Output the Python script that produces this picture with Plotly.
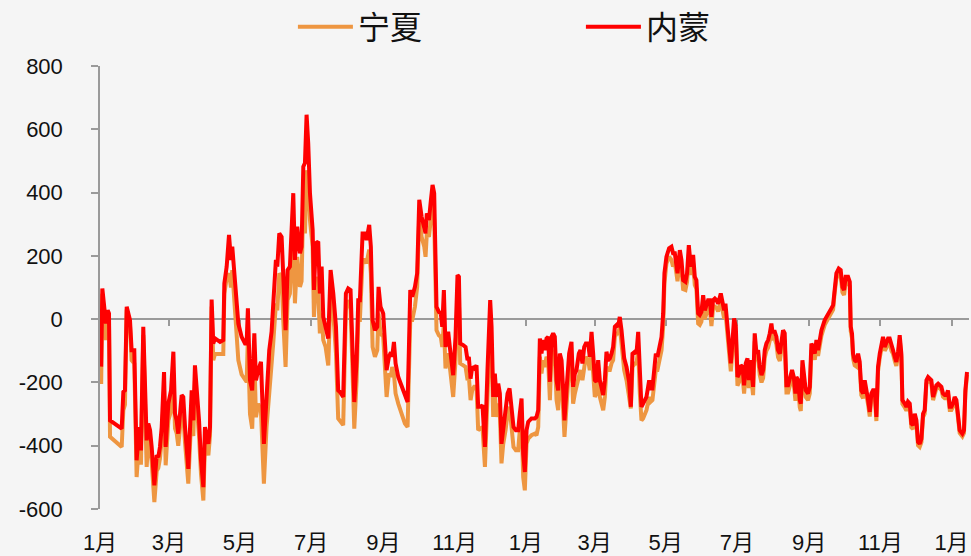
import pandas as pd
import plotly.graph_objects as go

FONT = "Liberation Sans, Noto Sans CJK SC, sans-serif"
CJK = "Noto Sans CJK SC, sans-serif"
AXIS_GREY = "#9a9a9a"
BG = "#f5f5f5"

START = pd.Timestamp("2021-01-01")

# day offsets from START
days = [
    1, 2, 5.1, 6.6, 7.7, 8.6, 18.6, 20, 21.4, 22.9, 25.7, 27.1, 29.4, 31.4, 33.7,
    35.1, 37.1, 38.6, 40, 41.4, 42.9, 44.3, 46.6, 48.6, 50, 51.4, 52.9, 54.9, 56.3, 58.6,
    60.9, 62.9, 64.3, 65.7, 67.1, 70, 71.4, 72.9, 75.7, 78.6, 80, 81.4, 82.9, 84.9, 86.6,
    88.6, 90, 92.9, 94.3, 95.7, 97.1, 98.6, 102.9, 105.7, 106.6, 108.6, 110.6, 112.3, 113.4, 115.7,
    118.6, 121.4,
    124.3, 125.7, 126.8, 128.6, 130.5, 132.3, 133.7, 135.7, 138, 140.5, 142.8, 145.1, 147.1, 148.5, 150.8,
    152, 153.7, 155.7, 157.1, 159.1, 160.8, 162.8, 165.7, 167.1, 169.1, 171.4, 172.8, 174.3, 175.7, 177.1,
    178.5, 180, 182.3, 183.4, 185.1, 187.1, 188.5, 190, 191.4, 193.4, 195.7, 197.7, 200, 202.3, 204.2,
    205.7, 208.5, 210.8, 212.8, 214.8, 216.5, 218, 220, 221.4, 222.8, 225.1, 227.1, 228.5, 230.8, 232.2,
    233.7, 235.7, 237.7, 238.8, 240.5, 242.8,
    245.7, 247.7, 249.4, 250.5, 252, 253.4, 255.7, 258.5, 261.4, 263.7, 264.8, 266, 267.7, 270, 271.9,
    273.7, 275.7, 278, 279.1, 280.2, 282, 283.7, 285.1, 286.5, 287.7, 288.5, 290.5, 292.2, 293.4, 294.8,
    296.2, 298.5, 300.2, 302.8, 304.8, 306.5, 307.7, 308.8, 311.4, 313.4, 315.1, 316.2, 317.7, 319.1, 320.8,
    322.8, 324.2, 326.5, 327.9, 330, 332.2, 334.5, 335.7, 337.1, 338.5, 339.9, 341.4, 342.8, 344.2, 345.7,
    347.7, 349.4, 351.1, 352.8, 354.5, 356.5, 358.5, 359.9, 361.4, 362.8, 364.2, 365.7, 367.1, 369.9, 372.8,
    374.2, 375.7, 377.1, 378.5, 379.9, 381.4, 382.8, 384.2, 385.7, 387.1, 388.5, 389.9, 391.4, 392.8, 394.2,
    395.7, 397.1, 398.2, 399.9, 402.2, 404.2, 405.6, 407.1, 408.5, 410.5, 411.9, 413.6, 415.1, 416.5, 418.5,
    419.9, 421.4, 422.8, 424.2, 425.6, 427.1, 428.5, 429.9, 431.4, 432.8, 434.2, 435.6, 437.1, 438.5, 439.9,
    441.4, 442.8, 444.2, 445.6, 447.1, 449.4, 451.4, 453.6, 455.1, 456.5, 458.5, 459.9, 461.4, 462.8, 464.2,
    465.6, 468.5, 470.8, 471.9, 473.6, 474.8, 476.5, 477.9, 479.3, 481.4, 482.8, 483.9, 485.6, 487.9, 489.9,
    491.3,
    492.8, 495.1, 497.1, 498.5, 499.9, 501.9, 503.3, 504.8, 506.5, 508.5, 509.9, 511.3, 512.8, 514.2, 515.6,
    517.1, 518.5, 521.3, 522.8, 524.2, 525.6, 527.1, 528.5, 529.9, 532.2, 533.6, 535.1, 536.2, 537.9, 539.3,
    540.8, 541.9, 543.6, 545.1, 546.5, 547.9, 549.3, 550.8, 552.2, 553.6, 555.1, 556.2, 557.6, 559.9, 561.3,
    562.8, 564.2, 565.6, 567.1, 568.5, 569.9, 571.3, 572.8, 574.2, 575.6, 576.5, 578.5, 579.9, 581.3, 582.8,
    584.2, 585.6, 587, 588.5, 589.9, 591.3, 593.3, 594.8, 596.2, 597, 598.5, 599.9, 600.8, 602.2, 603.6,
    605, 607, 608.5, 609.9, 611.3, 612.8, 614.2, 615.6, 617, 618.5, 621.3,
    624.2, 627, 628.5, 629.9, 631.3, 633.3, 635, 636.5, 637.9, 639.3, 641.3, 642.8, 643.6, 644.7, 645.6,
    647, 648.5, 649.9, 651.3, 652.7, 654.2, 655.6, 657, 658.5, 659.9, 661.3, 662.7, 664.2, 665.6, 667,
    668.5, 669.9, 671.3, 672.7, 674.2, 675.6, 677, 678.5, 679.9, 681.3, 682.7, 684.2, 685.6, 687, 687.9,
    689.9, 691.3, 692.7, 694.2, 695.6, 697, 698.5, 699.9, 701.3, 702.7, 704.2, 705.6, 707, 708.5, 709.9,
    711.3, 712.7, 714.2, 715.6, 717, 718.5, 719.9, 721.3, 722.7, 724.2, 725.6, 727, 728.5, 729.9, 731.3,
    732.7, 734.2, 735.6, 737, 739.3, 740.7, 741.9, 743.3,
]

neimeng = [
    -150, 97, -14, 28, 18, -320, -346, -230, -225, 39, -3, -98, -98, -446, -341,
    -415, -24, -183, -383, -330, -351, -404, -525, -430, -436, -404, -341, -167, -404, -267,
    -225, -103, -299, -320, -362, -240, -246, -341, -473, -225, -320, -146, -214, -320, -446,
    -531, -341, -394, -341, 62, -77, -61, -72, -66, 113, 166, 266, 187, 229, 102,
    -14, -56,
    -77, -77, 34, -193, -225, -45, -193, -161, -135, -394, -235, -98, -40, 60, 187,
    166, 271, 260, 102, -35, 155, 166, 398, 187, 292, 208, 229, 482, 493, 646,
    556, 398, 282, 92, 240, 245, 81, 166, 7, -24, -61, 155, 81, -24, -225,
    -230, -246, 81, 97, 92, -130, -262, -130, 60, 60, 271, 271, 250, 298, 229,
    -3, -35, -24, 102, 39, 18,
    -161, -119, -105, -119, -72, -140, -183, -214, -246, -262, -98, 92, 71, 102, 145,
    377, 324, 292, 271, 334, 313, 377, 424, 398, 187, 39, 23, 18, -24, 92,
    -88, -40, -98, -177, -56, 139, 134, -77, -82, -88, -130, -119, -188, -151, -156,
    -146, -277, -277, -272, -404, -161, 60, -24, -246, -172, -246, -204, -235, -394, -341,
    -277, -235, -219, -277, -341, -351, -351, -299, -251, -425, -483, -351, -325, -314, -314,
    -309, -288, -61, -109, -66, -98, -61, -56, -198, -56, -45, -56, -193, -225, -109,
    -130, -225, -320, -225, -109, -72, -214, -172, -161, -109, -98, -140, -88, -77, -77,
    -119, -40, -109, -193, -198, -130, -193, -219, -240, -193, -103, -130, -124, -109, -88,
    -24, -19, -24, 7, -35, -124, -151, -198, -277, -109, -103, -109, -40, -183, -277,
    -267, -246, -193, -219, -219, -183, -109, -119, -88, -56, 18, 145, 197, 224, 229,
    208,
    208, 145, 218, 187, 123, 118, 145, 234, 166, 203, 134, 123, 18, 13, 23,
    76, 28, 60, 60, 7, 60, 65, 60, 49, 81, 55, 28, 49, -24, -98,
    -140, -88, 2, -24, -183, -172, -146, -151, -209, -140, -124, -193, -130, -214, -45,
    -109, -98, -151, -177, -161, -98, -77, -66, -45, -14, -40, -40, -56, -98, -109,
    -77, -35, -45, -209, -209, -193, -161, -183, -235, -183, -193, -256, -267, -130, -183,
    -225, -235, -214, -77, -88, -109, -66, -98, -56, -35, -3,
    13, 34, 44, 102, 145, 160, 155, 102, 92, 134, 134, 118, -24, -45, -109,
    -130, -135, -109, -135, -225, -235, -193, -235, -256, -293, -235, -225, -225, -309, -151,
    -109, -72, -56, -88, -77, -61, -61, -88, -98, -119, -135, -103, -51, -109, -256,
    -267, -277, -261, -267, -330, -335, -299, -320, -388, -394, -378, -299, -288, -193, -183,
    -188, -193, -246, -225, -209, -204, -209, -214, -235, -240, -240, -225, -277, -277, -267,
    -246, -256, -320, -351, -362, -351, -225, -167,
]

ningxia = [
    -205, 80, -66, 10, 0, -372, -404, -288, -270, 30, -20, -130, -140, -499, -380,
    -460, -50, -230, -467, -380, -400, -450, -578, -480, -470, -440, -380, -225, -462, -320,
    -290, -170, -345, -360, -400, -290, -300, -390, -520, -280, -370, -195, -260, -370, -490,
    -573, -390, -430, -370, 40, -130, -110, -110, -110, 80, 130, 145, 100, 155, 40,
    -130, -175,
    -193, -198, -60, -300, -346, -110, -310, -267, -290, -520, -340, -235, -161, -77, 50,
    28, 145, 134, -3, -151, 60, 81, 290, 50, 197, 102, 120, 377, 271, 470,
    450, 313, 229, 7, 134, 81, -45, 18, -66, -88, -146, 81, 18, -108, -314,
    -320, -335, 28, 60, 39, -193, -346, -193, -3, -3, 187, 187, 176, 220, 145,
    -88, -119, -98, 18, -45, -56,
    -246, -172, -183, -151, -172, -235, -267, -298, -330, -341, -130, -3, -3, 39, 102,
    324, 260, 229, 197, 271, 260, 334, 366, 313, 60, -35, -51, -56, -88, -14,
    -156, -108, -161, -246, -130, 81, 60, -140, -146, -151, -193, -180, -256, -225, -214,
    -214, -351, -346, -341, -467, -225, -14, -98, -309, -235, -309, -267, -298, -456, -394,
    -351, -298, -277, -341, -404, -414, -414, -351, -320, -499, -541, -393, -378, -367, -362,
    -367, -341, -119, -172, -130, -151, -119, -130, -256, -109, -98, -119, -256, -288, -161,
    -193, -288, -372, -277, -151, -130, -267, -235, -214, -172, -161, -193, -140, -119, -130,
    -161, -98, -161, -246, -235, -193, -246, -267, -288, -246, -151, -161, -161, -140, -130,
    -56, -45, -45, -24, -77, -161, -193, -246, -282, -151, -140, -140, -98, -235, -320,
    -314, -288, -246, -262, -256, -225, -161, -161, -130, -98, -24, 113, 176, 197, 187,
    166,
    180, 120, 190, 160, 95, 92, 118, 205, 140, 176, 108, 96, -14, -18, -8,
    50, 0, 35, 33, -22, 35, 40, 36, 24, 58, 30, 2, 22, -50, -125,
    -165, -115, -22, -50, -210, -198, -170, -178, -235, -165, -150, -218, -155, -240, -70,
    -133, -122, -176, -200, -186, -122, -100, -90, -68, -36, -62, -63, -80, -120, -132,
    -100, -58, -68, -232, -232, -216, -184, -205, -258, -205, -215, -278, -290, -152, -204,
    -246, -256, -235, -98, -108, -128, -85, -116, -74, -52, -18,
    0, 20, 30, 86, 128, 143, 138, 85, 76, 118, 118, 103, -38, -60, -124,
    -146, -150, -124, -150, -240, -250, -208, -250, -270, -308, -250, -240, -240, -322, -165,
    -122, -85, -68, -100, -90, -73, -73, -100, -110, -131, -148, -116, -63, -121, -268,
    -279, -289, -273, -279, -342, -347, -311, -332, -399, -404, -389, -310, -299, -204, -193,
    -198, -203, -256, -235, -219, -214, -219, -224, -245, -250, -250, -235, -287, -287, -277,
    -256, -266, -330, -360, -371, -360, -234, -176,
]

assert len(days) == len(neimeng) == len(ningxia), (len(days), len(neimeng), len(ningxia))

tick_dates = [
    "2021-01-01", "2021-03-01", "2021-05-01", "2021-07-01", "2021-09-01", "2021-11-01",
    "2022-01-01", "2022-03-01", "2022-05-01", "2022-07-01", "2022-09-01", "2022-11-01",
    "2023-01-01",
]
tick_text = ["1月", "3月", "5月", "7月", "9月", "11月",
             "1月", "3月", "5月", "7月", "9月", "11月", "1月"]
y_ticks = [-600, -400, -200, 0, 200, 400, 600, 800]
y_text = ["-600", "-400", "-200", "0", "200", "400", "600", "800"]

dates = START + pd.to_timedelta(days, unit="D")
x_range = [START, START + pd.Timedelta(days=745)]

fig = go.Figure()
fig.add_trace(go.Scatter(
    x=dates, y=ningxia, name="宁夏", mode="lines",
    line=dict(color="#EE9641", width=4),
))
fig.add_trace(go.Scatter(
    x=dates, y=neimeng, name="内蒙", mode="lines",
    line=dict(color="#FF0000", width=4),
))
# dummy trace so the axis drawn through zero gets rendered
fig.add_trace(go.Scatter(
    x=[START], y=[0], xaxis="x2", mode="markers",
    marker=dict(opacity=0), showlegend=False, hoverinfo="skip",
))

fig.update_layout(
    width=971,
    height=556,
    margin=dict(l=100, r=2, t=66, b=47, autoexpand=False),
    paper_bgcolor=BG,
    plot_bgcolor=BG,
    font=dict(family=FONT, size=22, color="#111111"),
    legend=dict(
        orientation="h",
        x=0.222,
        y=1.088,
        xanchor="left",
        yanchor="middle",
        itemwidth=55,
        entrywidth=218,
        font=dict(family=CJK, size=32, color="#111111"),
        bgcolor="rgba(0,0,0,0)",
    ),
    xaxis=dict(
        range=x_range,
        tickvals=tick_dates,
        ticktext=tick_text,
        showline=False,
        showgrid=False,
        zeroline=False,
        ticks="",
        ticklabelstandoff=18,
    ),
    xaxis2=dict(
        overlaying="x",
        anchor="free",
        position=600 / 1400,
        matches="x",
        range=x_range,
        tickvals=tick_dates,
        showticklabels=False,
        showline=True,
        linecolor=AXIS_GREY,
        linewidth=1.5,
        ticks="outside",
        ticklen=6,
        tickwidth=1.5,
        tickcolor=AXIS_GREY,
        showgrid=False,
        zeroline=False,
        layer="below traces",
    ),
    yaxis=dict(
        range=[-600, 800],
        tickvals=y_ticks,
        ticktext=y_text,
        showline=True,
        linecolor=AXIS_GREY,
        linewidth=1.5,
        ticks="outside",
        ticklen=7,
        tickwidth=1.5,
        tickcolor=AXIS_GREY,
        showgrid=False,
        zeroline=False,
        ticklabelstandoff=24,
        layer="below traces",
    ),
)

# drop the default page margin so the figure fills the window
fig.write_html(
    "out.html",
    config={"displayModeBar": False},
    post_script="document.body.style.margin='0';document.body.style.background='%s';" % BG,
)
